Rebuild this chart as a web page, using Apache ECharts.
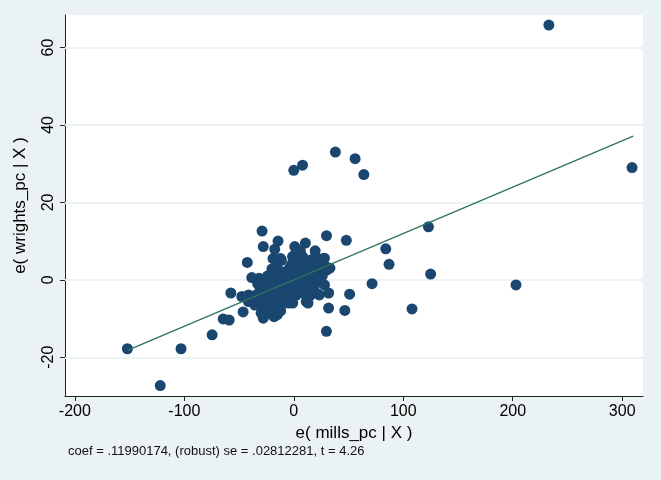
<!DOCTYPE html>
<html>
<head>
<meta charset="utf-8">
<script src="https://cdn.jsdelivr.net/npm/echarts@6/dist/echarts.min.js"></script>
<style>
  html, body { margin: 0; padding: 0; background: #eaf2f3; }
  #chart { width: 661px; height: 480px; }
</style>
</head>
<body>
<div id="chart"></div>
<script>
// tick labels
const xTicks = [-200, -100, 0, 100, 200, 300];
const yTicks = [-20, 0, 20, 40, 60];

// residual pairs [e(mills_pc|X), e(wrights_pc|X)]
const outerPoints = [
  [233, 65.8], [309, 29], [38, 33], [56, 31.3], [8, 29.6], [0, 28.3], [64, 27.2],
  [123, 13.7], [125, 1.5], [203, -1.3], [108, -7.5], [71.5, -1], [84, 8], [87, 4],
  [48, 10.2], [51, -3.7], [46.6, -7.9], [29.8, -13.3], [31.8, -7.3],
  [-152, -17.8], [-103, -17.8], [-74.6, -14.2], [-122, -27.3],
  [-64.5, -10.1], [-59, -10.4], [-57.5, -3.4], [-46.3, -8.3], [-47.5, -4.3],
  [-41.4, -3.9], [-41.4, -5.6], [-35.6, -6.5], [-42.5, 4.5], [-38.4, 0.6], [-31.7, 0.4],
  [-29, 12.6], [-27.9, 8.6], [-14.4, 10], [-17.4, 7.9], [-19, 5.5], [-11.3, 5],
  [-16.3, 2.8], [29.9, 11.4], [10.6, 9.5], [0.9, 8.6], [2.9, 7.7], [-0.9, 6],
  [19.5, 7.5], [28, 5.6], [31.8, 3], [28, -1.3], [31.8, -3.4], [23.4, -3.9],
  [11.4, -5.6], [8.2, -3.4], [-12.5, -7.6], [-18.3, -9.3], [-27.9, -9.9], [-29.8, -8.6]
];

const corePoints = [
  [2, 1], [5, 2], [8, 3], [10, 1.5], [12, 3.5], [15, 2], [18, 4], [20, 3], [22, 1],
  [25, 4.5], [28, 3], [30, 2.5], [26, 1], [17, 0.5], [14, -0.5], [6, -0.5], [3, 3],
  [9, 4.5], [13, 5], [21, 5.5], [24, 2.5], [19, 1.5], [11, 0], [7, 1], [4, -1],
  [16, 3], [23, 3.5], [27, 5.5], [29, 3.5], [31, 3], [33, 3],
  [0, 0], [-2, -1], [-4, 0.5], [-6, -1.5], [-8, -2], [-3, -3], [-1, 1.5], [1, -2],
  [-5, -4], [-7, -0.5], [-10, -3], [-12, -1], [-9, -5], [-11, -6], [-14, -4],
  [-15, -2], [-13, -7], [-16, -5.5], [-18, -3], [-20, -4], [-17, -8], [-19, -6.5],
  [-22, -5], [-24, -3], [-21, -1.5], [-25, -7], [-27, -5], [-26, -2], [-23, -8.5],
  [-29, -3.5], [-31, -2], [-33, -1], [-28, -8], [-30, -6], [-35, -4], [-32, -4.5],
  [-18, -9.5], [-15, -9], [-12, -8], [-5, -6], [-3, -5], [2, -4], [4, -3], [0, -3],
  [-1, -6], [6, -2.5], [8, -1.5], [10, -2], [3, 0.5], [-9, -0.5], [-6, 1], [-13, 0.5],
  [-16, 0], [-11, 2], [-14, 2.5], [-8, 2], [-4, 3], [-2, 4], [0, 3], [1, 5], [-1, 6],
  [2, 6.5], [-15, 1.5], [-19, 0.5], [-22, 0], [-26, 0], [-24, 1], [-20, 2.8],
  [-17, 5.2], [-12, 5.5], [12, -3], [15, -4], [13, -6], [18, -2], [20, -1],
  [22, -3.6], [14, -2.5], [24, 0.5], [20, 6], [18, 5.5], [8, 6], [5, 5], [6, 7.5], [3, 7]
];

// fitted line end points
const fitEnds = [[-152, -18.2], [310, 37.1]];

const noteText = 'coef = .11990174, (robust) se = .02812281, t = 4.26';

const chart = echarts.init(document.getElementById('chart'));
const font = 'Liberation Sans';

chart.setOption({
  backgroundColor: '#eaf2f3',
  animation: false,
  grid: { left: 65, right: 18, top: 15, bottom: 84, backgroundColor: '#fff', show: true, borderWidth: 0 },
  xAxis: {
    type: 'value', min: -209, max: 319,
    name: 'e( mills_pc | X )', nameLocation: 'middle', nameGap: 29,
    nameTextStyle: { fontFamily: font, fontSize: 17, color: '#000' },
    axisLine: { show: true, onZero: false, lineStyle: { color: '#222', width: 1 } },
    axisTick: { show: true, length: 5, customValues: xTicks, lineStyle: { color: '#222' } },
    axisLabel: { customValues: xTicks, margin: 8, fontFamily: font, fontSize: 16, color: '#000' },
    splitLine: { show: false }
  },
  yAxis: {
    type: 'value', min: -30, max: 68.4,
    name: 'e( wrights_pc | X )', nameLocation: 'middle', nameGap: 36,
    nameTextStyle: { fontFamily: font, fontSize: 17, color: '#000' },
    axisLine: { show: true, onZero: false, lineStyle: { color: '#222', width: 1 } },
    axisTick: { show: true, length: 5, customValues: yTicks, lineStyle: { color: '#222' } },
    axisLabel: { customValues: yTicks, rotate: 90, margin: 8, fontFamily: font, fontSize: 16, color: '#000' },
    splitLine: { show: false }
  },
  graphic: [{
    type: 'text', left: 68, top: 445,
    style: { text: noteText, fontFamily: font, fontSize: 13, fill: '#111' }
  }],
  series: [
    {
      type: 'line', data: [], silent: true, z: 1,
      markLine: {
        silent: true, symbol: 'none', label: { show: false }, z: 1,
        lineStyle: { color: '#eaf2f3', width: 2, type: 'solid' },
        data: yTicks.map(v => ({ yAxis: v }))
      }
    },
    {
      type: 'scatter', data: outerPoints.concat(corePoints), z: 5,
      symbolSize: 11, itemStyle: { color: '#1a476f', opacity: 1 }
    },
    {
      type: 'line', data: fitEnds, symbol: 'none', z: 6,
      lineStyle: { color: '#2f7362', width: 1.3 }
    }
  ]
});
</script>
</body>
</html>
